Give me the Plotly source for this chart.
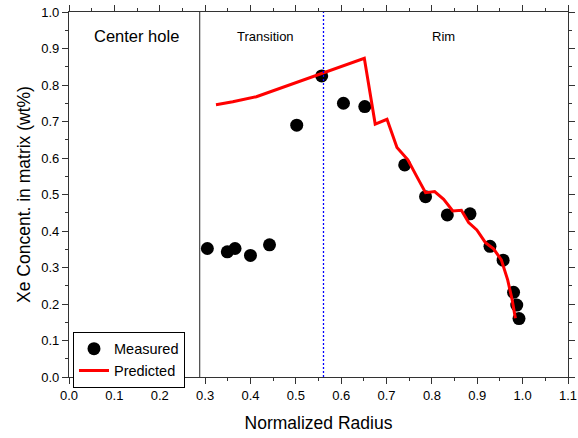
import plotly.graph_objects as go

# Measured Xe concentration in matrix vs normalized radius
meas_r = [0.305, 0.349, 0.366, 0.400, 0.442, 0.502, 0.557, 0.605, 0.652,
          0.740, 0.786, 0.834, 0.884, 0.928, 0.957, 0.980, 0.987, 0.992]
meas_xe = [0.352, 0.343, 0.352, 0.333, 0.362, 0.690, 0.825, 0.750, 0.741,
           0.581, 0.494, 0.444, 0.447, 0.358, 0.320, 0.232, 0.197, 0.160]

# Model prediction
pred_r = [0.324, 0.361, 0.413, 0.486, 0.557, 0.651, 0.675, 0.701, 0.723,
          0.747, 0.765, 0.786, 0.806, 0.826, 0.846, 0.865, 0.881, 0.899,
          0.918, 0.936, 0.953, 0.967, 0.977, 0.984]
pred_xe = [0.746, 0.754, 0.768, 0.800, 0.832, 0.873, 0.693, 0.706, 0.629,
           0.595, 0.553, 0.505, 0.508, 0.487, 0.455, 0.457, 0.423, 0.403,
           0.368, 0.351, 0.321, 0.266, 0.211, 0.161]

hole_edge = 0.288
transition_edge = 0.561

font = "Liberation Sans, Arial, sans-serif"

fig = go.Figure()
fig.add_trace(go.Scatter(x=meas_r, y=meas_xe, mode="markers", name="Measured",
                         marker=dict(color="black", size=13)))
fig.add_trace(go.Scatter(x=pred_r, y=pred_xe, mode="lines", name="Predicted",
                         line=dict(color="#ff0000", width=3)))

fig.add_shape(type="line", x0=hole_edge, x1=hole_edge, y0=0, y1=1,
              xref="x", yref="y", line=dict(color="#555555", width=1.3))
fig.add_shape(type="line", x0=transition_edge, x1=transition_edge, y0=0, y1=1,
              xref="x", yref="y", line=dict(color="#0000ff", width=1.3, dash="2px,2px"))

fig.add_annotation(x=0.148, y=0.934, text="Center hole", showarrow=False,
                   font=dict(size=16.5, color="black", family=font))
fig.add_annotation(x=0.433, y=0.934, text="Transition", showarrow=False,
                   font=dict(size=13, color="black", family=font))
fig.add_annotation(x=0.826, y=0.934, text="Rim", showarrow=False,
                   font=dict(size=13, color="black", family=font))

axis_common = dict(showline=True, linecolor="#333333", linewidth=1.3,
                   mirror="ticks", ticks="outside", ticklen=6, tickwidth=1,
                   tickcolor="#333333", showgrid=False, zeroline=False,
                   automargin=False,
                   tickfont=dict(size=13, color="black", family=font))

fig.update_xaxes(range=[0, 1.1], dtick=0.1, tickformat=".1f",
                 minor=dict(dtick=0.05, ticks="outside", ticklen=3, tickcolor="#333333"),
                 title=dict(text="Normalized Radius", standoff=14,
                            font=dict(size=17.5, color="black", family=font)),
                 **axis_common)
fig.update_yaxes(range=[0, 1.0], dtick=0.1, tickformat=".1f",
                 minor=dict(dtick=0.05, ticks="outside", ticklen=3, tickcolor="#333333"),
                 title=dict(text="Xe Concent. in matrix (wt%)", standoff=6,
                            font=dict(size=17.5, color="black", family=font)),
                 **axis_common)

fig.update_layout(
    width=578, height=438,
    margin=dict(l=69, r=10, t=12, b=61),
    plot_bgcolor="white", paper_bgcolor="white",
    font=dict(family=font, color="black"),
    legend=dict(x=0.008, y=0.124, xanchor="left", yanchor="top",
                bgcolor="white", bordercolor="black", borderwidth=1,
                font=dict(size=14.5, color="black", family=font),
                tracegroupgap=0, itemwidth=30),
)

fig.write_html("out.html")
